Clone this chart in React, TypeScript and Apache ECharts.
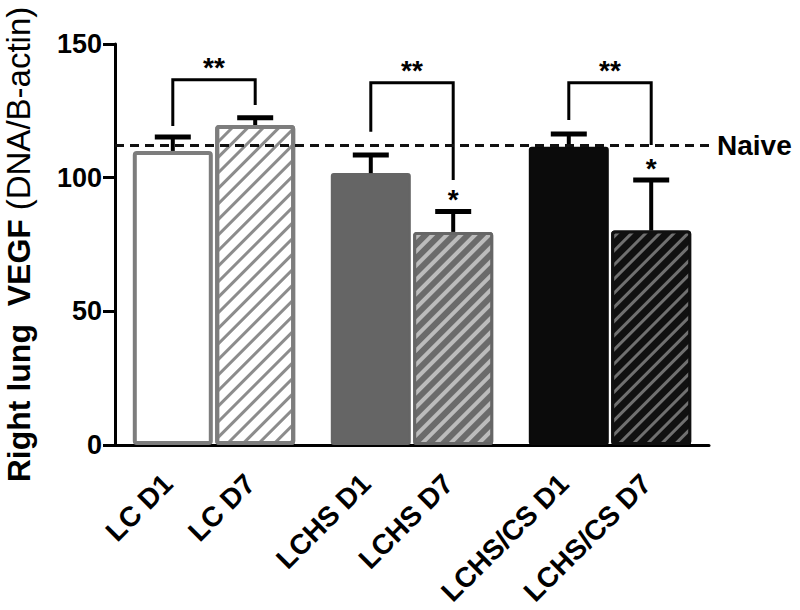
import React, { useEffect, useRef } from 'react';
import * as echarts from 'echarts';

// ---- data ----
const groups = ['LC', 'LCHS', 'LCHS/CS'];
const barLabels = ['LC D1', 'LC D7', 'LCHS D1', 'LCHS D7', 'LCHS/CS D1', 'LCHS/CS D7'];
const d1Mean = [110, 101.7, 111.6];
const d7Mean = [119.7, 79.7, 80.2];
const d1Sem = [5.2, 6.8, 4.7];
const d7Sem = [2.7, 7.6, 18.9];
const d7Star = [0, 1, 1];
const bracketTop = [136.6, 135.5, 135.5];
const bracketLeftEnd = [119.3, 117.2, 121.6];
const bracketRightEnd = [127.2, 99.1, 112.2];
const naiveLevel = 112.2;
const yTicks = [0, 50, 100, 150];

// ---- styles ----
const FONT = "'Liberation Sans', Arial, Helvetica, sans-serif";
const BAR_W = 80;
const BAR_GAP = 0.03;
const OFF = (BAR_W * (1 + BAR_GAP)) / 2;

const stripe = (c: string, on: number, off: number) => ({
  symbol: 'rect',
  symbolSize: 1,
  dashArrayX: [1, 0],
  dashArrayY: [on, off],
  rotation: -Math.PI / 4,
  color: c,
});

const d1Styles = [
  { color: '#ffffff', borderColor: '#7d7d7d', borderWidth: 4, borderRadius: 2 },
  { color: '#656565', borderColor: '#656565', borderWidth: 2, borderRadius: 2 },
  { color: '#0b0b0b', borderColor: '#0b0b0b', borderWidth: 2, borderRadius: 2 },
];
const d7Styles = [
  { color: '#ffffff', borderColor: '#7d7d7d', borderWidth: 4, borderRadius: 2, decal: stripe('#8c8c8c', 3, 8) },
  { color: '#6b6b6b', borderColor: '#666666', borderWidth: 3, borderRadius: 2, decal: stripe('#bcbcbc', 3.5, 6) },
  { color: '#101010', borderColor: '#101010', borderWidth: 3, borderRadius: 2, decal: stripe('#707070', 3, 7) },
];

export default function App() {
  const ref = useRef<HTMLDivElement>(null);
  useEffect(() => {
    if (!ref.current) return;
    const chart = echarts.init(ref.current, null, { renderer: 'svg' });

    const errData: number[][] = [];
    groups.forEach((_, i) => {
      errData.push([i, 0, d1Mean[i], d1Sem[i], 0, i * 2]);
      errData.push([i, 1, d7Mean[i], d7Sem[i], d7Star[i], i * 2 + 1]);
    });
    const bracketData = groups.map((_, i) => [i, bracketTop[i], bracketLeftEnd[i], bracketRightEnd[i]]);

    chart.setOption({
      animation: false,
      backgroundColor: '#ffffff',
      grid: { left: 115, right: 91, top: 44, bottom: 165, containLabel: false, outerBoundsMode: 'none' },
      xAxis: {
        type: 'category',
        data: groups,
        axisLine: { show: true, lineStyle: { color: '#000', width: 3 } },
        axisTick: { show: false },
        axisLabel: { show: false },
        splitLine: { show: false },
      },
      yAxis: {
        type: 'value',
        min: yTicks[0],
        max: yTicks[yTicks.length - 1],
        interval: 50,
        axisLine: { show: true, lineStyle: { color: '#000', width: 3 } },
        axisTick: { show: true, length: 12, lineStyle: { color: '#000', width: 3 } },
        axisLabel: { margin: 13, fontSize: 27, fontWeight: 'bold', fontFamily: FONT, color: '#000' },
        splitLine: { show: false },
        name: '{b|Right lung  VEGF }{r|(DNA/B-actin)}',
        nameLocation: 'middle',
        nameRotate: 90,
        nameGap: 80,
        nameTextStyle: {
          fontFamily: FONT,
          rich: {
            b: { fontSize: 32, fontWeight: 'bold', fontFamily: FONT, color: '#000' },
            r: { fontSize: 33, fontFamily: FONT, color: '#000' },
          },
        },
      },
      series: [
        {
          type: 'bar',
          name: 'D1',
          barWidth: BAR_W,
          barGap: `${BAR_GAP * 100}%`,
          data: d1Mean.map((v, i) => ({ value: v, itemStyle: d1Styles[i] })),
          markLine: {
            silent: true,
            symbol: 'none',
            data: [{ yAxis: naiveLevel }],
            lineStyle: { color: '#111', width: 3, type: [9, 6] },
            label: {
              show: true,
              position: 'end',
              distance: 8,
              formatter: 'Naive',
              fontSize: 28,
              fontWeight: 'bold',
              fontFamily: FONT,
              color: '#000',
            },
            z: 5,
          },
        },
        {
          type: 'bar',
          name: 'D7',
          barWidth: BAR_W,
          barGap: `${BAR_GAP * 100}%`,
          data: d7Mean.map((v, i) => ({ value: v, itemStyle: d7Styles[i] })),
        },
        {
          type: 'custom',
          name: 'err',
          clip: false,
          z: 4,
          encode: { x: 0, y: 2 },
          data: errData,
          renderItem: (params: any, api: any) => {
            const g = api.value(0);
            const j = api.value(1);
            const mean = api.value(2);
            const sem = api.value(3);
            const star = api.value(4);
            const li = api.value(5);
            const cx = api.coord([g, 0])[0] + (j === 0 ? -OFF : OFF);
            const y0 = api.coord([g, 0])[1];
            const yMean = api.coord([g, mean])[1];
            const yTop = api.coord([g, mean + sem])[1];
            const children: any[] = [
              { type: 'line', shape: { x1: cx, y1: yMean, x2: cx, y2: yTop }, style: { stroke: '#000', lineWidth: 4 } },
              { type: 'line', shape: { x1: cx - 18, y1: yTop, x2: cx + 18, y2: yTop }, style: { stroke: '#000', lineWidth: 5 } },
              {
                type: 'text',
                x: cx - 5,
                y: y0 + 34,
                rotation: Math.PI / 4,
                style: {
                  text: barLabels[li],
                  font: `bold 28px ${FONT}`,
                  align: 'right',
                  verticalAlign: 'middle',
                  fill: '#000',
                },
              },
            ];
            if (star) {
              children.push({
                type: 'text',
                x: cx,
                y: yTop + 2,
                style: { text: '*', font: `bold 28px ${FONT}`, align: 'center', verticalAlign: 'bottom', fill: '#000' },
              });
            }
            return { type: 'group', children };
          },
        },
        {
          type: 'custom',
          name: 'sig',
          clip: false,
          z: 4,
          encode: { x: 0, y: 1 },
          data: bracketData,
          renderItem: (params: any, api: any) => {
            const g = api.value(0);
            const c = api.coord([g, 0])[0];
            const xL = c - OFF;
            const xR = c + OFF;
            const yT = api.coord([g, api.value(1)])[1];
            const yL = api.coord([g, api.value(2)])[1];
            const yR = api.coord([g, api.value(3)])[1];
            return {
              type: 'group',
              children: [
                {
                  type: 'polyline',
                  shape: { points: [[xL, yL], [xL, yT], [xR, yT], [xR, yR]] },
                  style: { stroke: '#000', lineWidth: 3, fill: null },
                },
                {
                  type: 'text',
                  x: c,
                  y: yT + 2,
                  style: { text: '**', font: `bold 28px ${FONT}`, align: 'center', verticalAlign: 'bottom', fill: '#000' },
                },
              ],
            };
          },
        },
      ],
    });
    return () => chart.dispose();
  }, []);

  return (
    <div
      ref={ref}
      style={{ position: 'absolute', left: 0, top: 0, width: 800, height: 610, background: '#fff' }}
    />
  );
}
